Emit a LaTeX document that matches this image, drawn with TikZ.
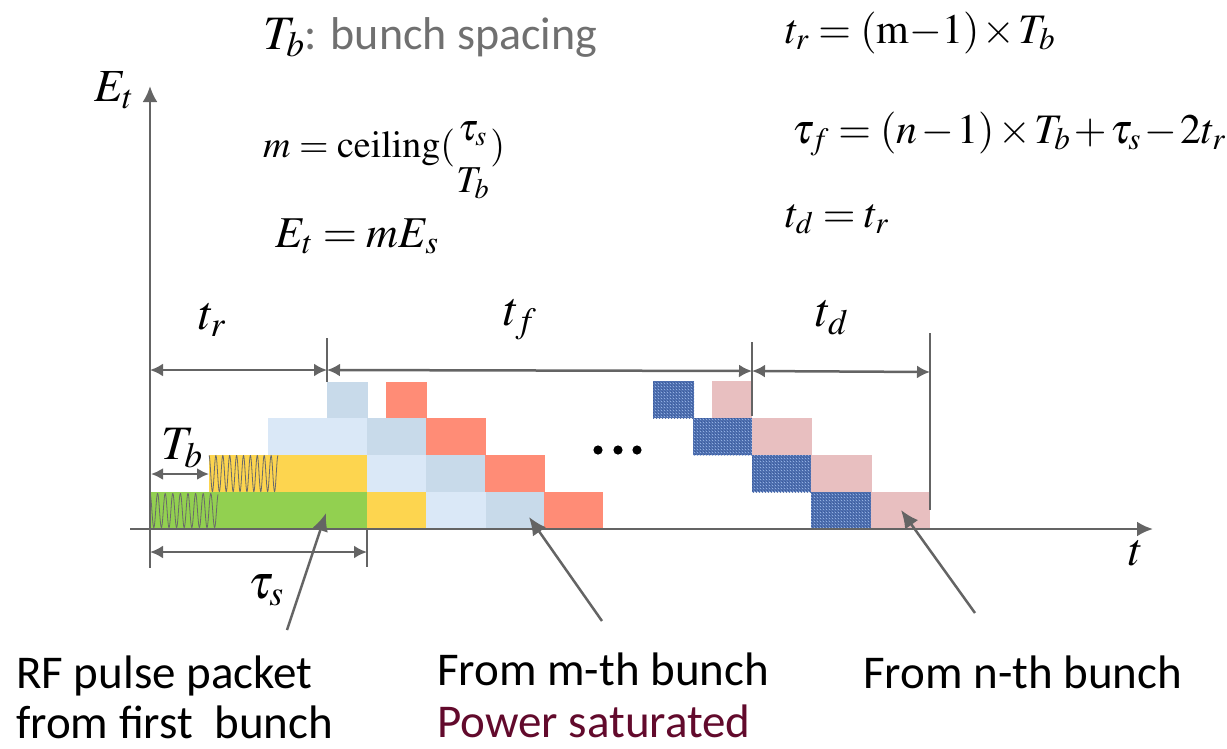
\documentclass[tikz,border=0pt]{standalone}
\usepackage{amsmath}
\usepackage{mathptmx}
\usepackage[no-math]{fontspec}
\newfontfamily\calib{Carlito}
\usetikzlibrary{arrows.meta,patterns}
\definecolor{cgreen}{HTML}{92D050}
\definecolor{cyellow}{HTML}{FDD54F}
\definecolor{clblue}{HTML}{C8DAEA}
\definecolor{ctex}{HTML}{DAE8F7}
\definecolor{cred}{HTML}{FF8C76}
\definecolor{cdblue}{HTML}{4D6FB3}
\definecolor{cdbluelt}{HTML}{A9C4F0}
\definecolor{cdbluedk}{HTML}{2E4C8A}
\definecolor{cpink}{HTML}{E8BFC0}
\definecolor{linegray}{HTML}{646464}
\definecolor{textgray}{HTML}{707070}
\definecolor{maroon}{HTML}{620A2C}
\definecolor{wavegray}{HTML}{6A6A6A}
\newcommand{\tightsp}{\thickmuskip=4mu plus 1mu\medmuskip=1.5mu plus 1mu}
\begin{document}
\begin{tikzpicture}[x=1pt,y=-1pt,
  lbl/.style={anchor=base west,font=\calib\fontsize{47}{52}\selectfont,inner sep=0pt},
  eqn/.style={anchor=base west,inner sep=0pt},
  mlab/.style={inner sep=0pt,font=\fontsize{48}{52}\selectfont},
  ptr/.style={draw=linegray,line width=2.5pt,-{Latex[length=18pt,width=16pt]}},
  dim/.style={draw=linegray,line width=2.5pt,{Latex[length=13pt,width=13pt]}-{Latex[length=13pt,width=13pt]}},
  axis/.style={draw=linegray,line width=2.8pt,-{Latex[length=16pt,width=15pt]}},
  tick/.style={draw=linegray,line width=1.5pt},
  wave/.style={draw=wavegray,line width=0.8pt},
  dtex/.style={fill=cdblue,postaction={pattern=north east lines,pattern color=cdbluedk},postaction={pattern=crosshatch dots,pattern color=cdbluelt}}]
\useasboundingbox (0,0) rectangle (1227,748);
% ---- blocks row 1
\fill[cgreen] (149,492) rectangle (367,529);
\fill[cyellow] (367,492) rectangle (426,529);
\fill[ctex] (426,492) rectangle (486,529);
\fill[clblue] (486,492) rectangle (544,529);
\fill[cred] (544,492) rectangle (603,529);
\path[dtex] (811,492) rectangle (871,529);
\fill[cpink] (871,492) rectangle (930,529);
% ---- row 2
\fill[cyellow] (209,455) rectangle (367,492);
\fill[ctex] (367,455) rectangle (426,492);
\fill[clblue] (426,455) rectangle (485,492);
\fill[cred] (485,455) rectangle (545,492);
\path[dtex] (752,455) rectangle (811,492);
\fill[cpink] (811,455) rectangle (872,492);
% ---- row 3
\fill[ctex] (268,418) rectangle (367,455);
\fill[clblue] (367,418) rectangle (426,455);
\fill[cred] (426,418) rectangle (486,455);
\path[dtex] (693,418) rectangle (752,455);
\fill[cpink] (752,418) rectangle (812,455);
% ---- row 4
\fill[clblue] (327,382) rectangle (368,418);
\fill[cred] (386,382) rectangle (427,418);
\path[dtex] (653,381) rectangle (694,418);
\fill[cpink] (712,381) rectangle (752,418);
% ---- waves
\draw[wave] plot[domain=0:68,samples=400,smooth] ({150+\x},{510.5-17*cos(\x/7.6*360)});
\draw[wave] plot[domain=0:69,samples=400,smooth] ({209+\x},{473.5-18*cos(\x/6.9*360)});
% ---- dots
\fill (598,450) circle (4.6);
\fill (618,450) circle (4.6);
\fill (637,450) circle (4.6);
% ---- axes
\coordinate (o) at (150,529);
\coordinate (xs) at (130,529);
\coordinate (xe) at (1153,529);
\coordinate (ye) at (150,86);
\draw[axis] (xs) -- (xe);
\draw[axis] (o) -- (ye);
\node[mlab,font=\fontsize{46}{50}\selectfont] (Et) at (114,90) {$E_t$};
\node[mlab,font=\fontsize{46}{50}\selectfont] (tlab) at (1136,553) {$t$};
% ---- top dimensions
\coordinate (a0) at (150,370);
\coordinate (a1) at (327,370);
\coordinate (a2) at (752,371);
\coordinate (a3) at (930,372);
\draw[tick] (327,338) -- (327,382);
\draw[tick] (752,342) -- (752,416);
\draw[tick] (930,333) -- (930,510);
\draw[dim] (a0) -- (a1);
\draw[dim] (a1) -- (a2);
\draw[dim] (a2) -- (a3);
\node[mlab] (ltr) at (212,320) {$t_r$};
\node[mlab] (ltf) at (520,320) {$t_f$};
\node[mlab] (ltd) at (832,318) {$t_d$};
% ---- Tb dimension
\coordinate (b0) at (151,474);
\coordinate (b1) at (209,474);
\draw[dim,{Latex[length=12pt,width=12pt]}-{Latex[length=12pt,width=12pt]}] (b0) -- (b1);
\node[mlab] (lTb) at (182,448) {$T_b$};
% ---- tau_s dimension
\draw[tick] (150,529) -- (150,568);
\draw[tick] (367,529) -- (367,567);
\coordinate (s0) at (150,552);
\coordinate (s1) at (367,552);
\draw[dim] (s0) -- (s1);
\node[mlab] (lts) at (266,590) {$\tau_s$};
% ---- equations
\node[eqn,font=\fontsize{48}{52}\selectfont] (eqTb) at (263,49) {$T_b$\textcolor{textgray}{\calib\fontsize{46}{50}\selectfont: bunch spacing}};
\node[eqn,font=\fontsize{38}{44}\selectfont] (eqm) at (263,157) {$\tightsp m=\mathrm{ceiling}(\lower9pt\hbox{$\genfrac{}{}{0pt}{0}{\tau_s}{T_b}$})$};
\node[eqn,font=\fontsize{44}{50}\selectfont] (eqE) at (275,247) {$\tightsp E_t=mE_s$};
\node[eqn,font=\fontsize{42}{48}\selectfont] (eqtr) at (785,43) {$\tightsp t_r=(\mathrm{m}{-}1)\times T_b$};
\node[eqn,font=\fontsize{42}{48}\selectfont] (eqtf) at (792,143) {$\tightsp \tau_f=(n-1)\times T_b+\tau_s-2t_r$};
\node[eqn,font=\fontsize{42}{48}\selectfont] (eqtd) at (785,227) {$\tightsp t_d=t_r$};
% ---- bottom labels
\node[lbl] (rf1) at (16,688) {RF pulse packet};
\node[lbl] (rf2) at (16,738) {from first\ \ bunch};
\node[lbl] (mb1) at (437,685) {From m-th bunch};
\node[lbl,text=maroon] (mb2) at (437,737) {Power saturated};
\node[lbl] (nb1) at (863,688) {From n-th bunch};
% ---- pointers
\coordinate (p1s) at (287,630);
\coordinate (p1e) at (326,513);
\coordinate (p2s) at (602,621);
\coordinate (p2e) at (529,517);
\coordinate (p3s) at (975,613);
\coordinate (p3e) at (901,510);
\draw[ptr] (p1s) -- (p1e);
\draw[ptr] (p2s) -- (p2e);
\draw[ptr] (p3s) -- (p3e);
\end{tikzpicture}
\end{document}
